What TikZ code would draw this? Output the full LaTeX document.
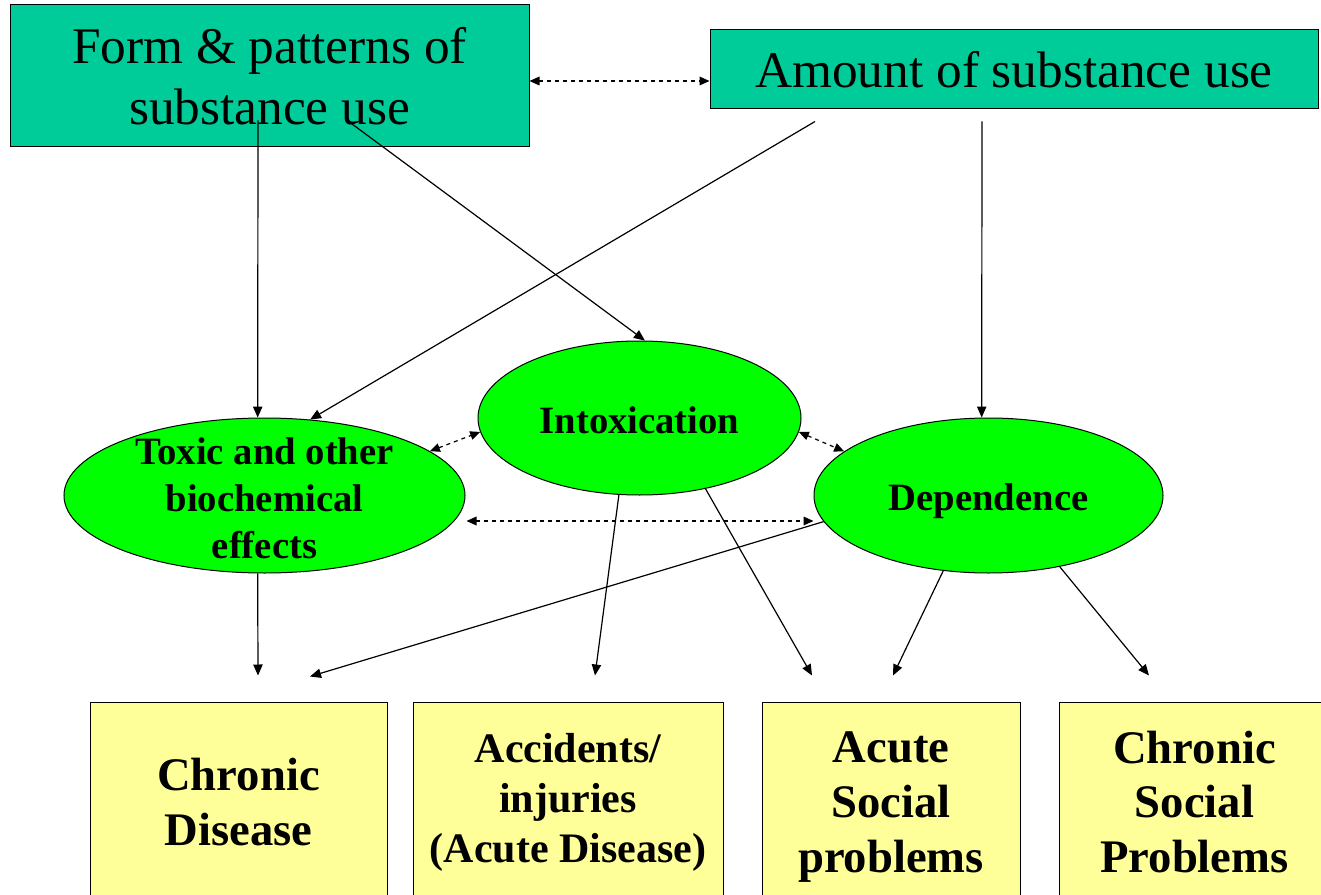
\documentclass[tikz,border=0pt]{standalone}
\usepackage{fontspec}
\setmainfont{Liberation Serif}
\usetikzlibrary{shapes.geometric, arrows.meta, calc}
\definecolor{seagreen}{HTML}{00CC99}
\definecolor{effgreen}{HTML}{00FF00}
\definecolor{paleyellow}{HTML}{FFFF99}

\begin{document}
\begin{tikzpicture}[x=0.75pt, y=-0.75pt, line width=0.75pt,
    usebox/.style={draw, fill=seagreen, inner sep=0pt, align=center, font=\fontsize{38.5}{46}\selectfont},
    effect/.style={draw, ellipse, fill=effgreen, inner sep=0pt},
    efftext/.style={font=\bfseries\fontsize{29}{35}\selectfont, align=center, inner sep=0pt, yshift=-2pt},
    harm/.style={draw, fill=paleyellow, inner sep=0pt, align=center, minimum height=150pt, font=\bfseries\fontsize{35}{41}\selectfont},
    arr/.style={line width=0.9pt, -{Triangle[length=8.25pt,width=7pt]}},
    dasharr/.style={line width=0.9pt, {Triangle[length=7.5pt,width=6.5pt]}-{Triangle[length=7.5pt,width=6.5pt]}, dash pattern=on 3pt off 3pt}]
        \useasboundingbox (0,0) rectangle (1321,895);
        \clip (0,0) rectangle (1321,895);

        \node[usebox, minimum width=389.25pt, minimum height=106.5pt] (form) at (269.5,76) {Form \& patterns of\\substance use};
        \node[usebox, minimum width=456pt, minimum height=59.25pt] (amount) at (1014,69.5) {Amount of substance use};

        \node[effect, minimum width=300.75pt, minimum height=116.25pt, label={[efftext]center:{Toxic and other\\biochemical\\effects}}] (toxic) at (264.5,495.5) {};
        \node[effect, minimum width=242.25pt, minimum height=115.5pt, label={[efftext]center:Intoxication}] (intox) at (639.5,418) {};
        \node[effect, minimum width=261.75pt, minimum height=116.25pt, label={[efftext, yshift=-2pt]center:Dependence}] (dep) at (988.5,495.5) {};

        \node[harm, minimum width=222.75pt] (cdis) at (238.5,802) {Chronic\\Disease};
        \node[harm, minimum width=232.5pt, font=\bfseries\fontsize{31.5}{37.5}\selectfont] (acc) at (568,802) {Accidents/\\injuries\\(Acute Disease)};
        \node[harm, minimum width=193.5pt, text depth=0pt] (asoc) at (891,802) {Acute\\Social\\problems};
        \node[harm, minimum width=203.25pt] (csoc) at (1194.5,802) {Chronic\\Social\\Problems};

        \coordinate (form-a) at ($(form.south)+(-11.5,-27)$);
        \coordinate (form-b) at ($(form.south)+(80.5,-25)$);
        \coordinate (amount-a) at ($(amount.south)+(-199,12)$);
        \coordinate (amount-b) at ($(amount.south)+(-32,12)$);
        \coordinate (cdis-a) at ($(cdis.north)+(19.5,-26)$);
        \coordinate (cdis-b) at ($(cdis.north)+(71.5,-25)$);
        \coordinate (acc-a) at ($(acc.north)+(27,-26)$);
        \coordinate (asoc-a) at ($(asoc.north)+(-79,-26)$);
        \coordinate (asoc-b) at ($(asoc.north)+(2,-26)$);
        \coordinate (csoc-a) at ($(csoc.north)+(-45.5,-26)$);

        \draw [arr] (form-a) -- (toxic.95);
        \draw [arr] (form-b) -- (intox.86);
        \draw [arr] (amount-a) -- (toxic.59);
        \draw [arr] (amount-b) -- (dep.95);

        \draw [dasharr] ($(form.east)+(0,5)$) -- ($(amount.west)+(0,11.5)$);
        \draw [dasharr] (toxic.15) -- (intox.185);
        \draw [dasharr] (intox.355) -- (dep.163);
        \draw [dasharr] ($(toxic.east)+(1,25.5)$) -- ($(dep.west)+(0,25.5)$);

        \draw [arr] (toxic.265) -- (cdis-a);
        \draw [arr] (dep.189) -- (cdis-b);
        \draw [arr] (intox.255) -- (acc-a);
        \draw [arr] (intox.313) -- (asoc-a);
        \draw [arr] (dep.239) -- (asoc-b);
        \draw [arr] (dep.315) -- (csoc-a);
    \end{tikzpicture}
\end{document}
